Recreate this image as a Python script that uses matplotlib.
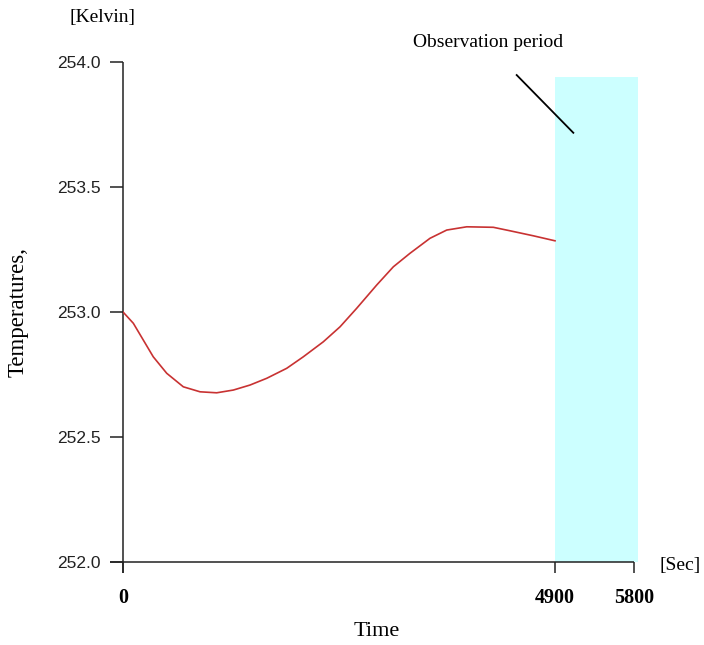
import matplotlib
matplotlib.use("Agg")
import matplotlib.pyplot as plt
from matplotlib import font_manager

# ---- data ----
time_s = [0, 114, 227, 340, 493, 681, 871, 1060, 1249, 1438, 1628, 1855, 2043,
          2270, 2460, 2649, 2876, 3065, 3254, 3481, 3671, 3898, 4200, 4390, 4654, 4900]
temp_k = [253.000, 252.956, 252.889, 252.822, 252.756, 252.702, 252.682, 252.678,
          252.689, 252.709, 252.736, 252.776, 252.822, 252.882, 252.942, 253.016,
          253.109, 253.182, 253.236, 253.296, 253.329, 253.342, 253.340, 253.326,
          253.306, 253.286]
x_ticks = [0, 4900, 5800]
x_tick_labels = ["0", "4900", "5800"]
y_ticks = [252.0, 252.5, 253.0, 253.5, 254.0]
y_tick_labels = ["252.0", "252.5", "253.0", "253.5", "254.0"]
obs_start, obs_end, obs_top = 4900, 5840, 253.94

# ---- fonts ----
names = {f.name for f in font_manager.fontManager.ttflist}
tick_sans = "Liberation Sans Narrow" if "Liberation Sans Narrow" in names else "Liberation Sans"
tick_size = 14 if tick_sans == "Liberation Sans Narrow" else 12.5
serif = ["Liberation Serif", "DejaVu Serif"]

W, H = 704, 645
fig = plt.figure(figsize=(W / 100, H / 100), dpi=100)
x0, x1 = 123.3, 634.3
y0, y1 = 562.3, 62.3
ax = fig.add_axes([x0 / W, 1 - y0 / H, (x1 - x0) / W, (y0 - y1) / H])
ax.set_xlim(0, 5800)
ax.set_ylim(252.0, 254.0)
for s in ax.spines.values():
    s.set_visible(False)
ax.patch.set_alpha(0)

# observation period band
ax.fill_between([obs_start, obs_end], 252.0, obs_top, color="#ccffff", lw=0,
                zorder=1, clip_on=False)

# axis lines
px_t = (x1 - x0) / 5800.0
px_k = (y0 - y1) / 2.0
ax.plot([0, 0], [252.0 - 10.7 / px_k, 254.0], color="#222222", lw=1.1,
        clip_on=False, zorder=3, solid_capstyle="butt")
ax.plot([-13.3 / px_t, 5800], [252.0, 252.0], color="#222222", lw=1.1,
        clip_on=False, zorder=3, solid_capstyle="butt")

# curve
ax.plot(time_s, temp_k, color="#c83232", lw=1.2, zorder=4, solid_joinstyle="round")

# ticks
ax.set_yticks(y_ticks)
ax.set_yticklabels(y_tick_labels, family=tick_sans, fontsize=tick_size, color="#222222")
ax.tick_params(axis="y", direction="out", length=9.4, width=1.1, color="#222222", pad=7)
ax.set_xticks(x_ticks)
ax.set_xticklabels(x_tick_labels, family=serif, fontweight="bold", fontsize=14.5)
ax.tick_params(axis="x", direction="out", length=7.7, width=1.1, color="#222222", pad=11)

# annotation line
ax.plot([4465, 5108], [253.949, 253.718], color="black", lw=1.3, clip_on=False, zorder=5)
ax.text(4140, 254.078, "Observation period", family=serif, fontsize=14,
        ha="center", va="center", clip_on=False)

# unit labels
ax.text(-236, 254.181, "[Kelvin]", family=serif, fontsize=14, ha="center",
        va="center", clip_on=False)
ax.text(6319, 251.989, "[Sec]", family=serif, fontsize=14, ha="center",
        va="center", clip_on=False)

# axis titles
fig.text(377 / W, 1 - 631 / H, "Time", family=serif, fontsize=16, ha="center", va="center")
fig.text(18 / W, 1 - 312 / H, "Temperatures,", family=serif, fontsize=16.5,
         ha="center", va="center", rotation=90)

fig.savefig("out.png", dpi=100)
